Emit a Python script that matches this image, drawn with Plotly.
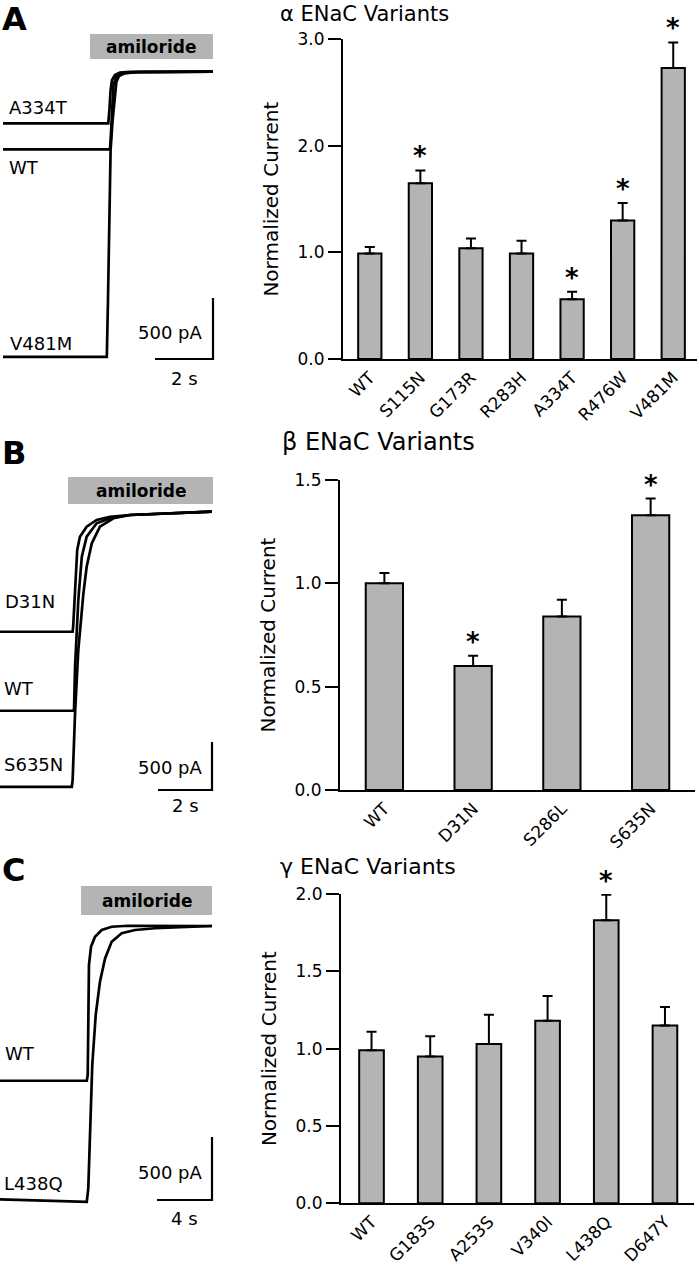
import plotly.graph_objects as go

# ---------------- data ----------------
# amiloride-sensitive current traces (time in s, current in pA, 0 = amiloride plateau)
A_T_A334T = [0, 3.63, 3.67, 3.71, 3.76, 3.86, 4.03, 4.38, 7.24]
A_I_A334T = [-423, -423, -314, -150, -68, -27, -7, -2, 0]
A_T_WT = [0, 3.69, 3.72, 3.77, 3.81, 3.90, 4.10, 4.55, 7.24]
A_I_WT = [-636, -636, -519, -232, -109, -43, -15, -4, 0]
A_T_V481M = [0, 3.58, 3.62, 3.67, 3.71, 3.78, 3.86, 3.91, 4.00, 4.21, 4.66, 7.24]
A_I_V481M = [-2337, -2337, -1872, -1216, -642, -396, -191, -84, -35, -11, -4, 0]

B_T_D31N = [0, 2.69, 2.71, 2.78, 2.86, 2.96, 3.21, 3.58, 4.07, 4.81, 7.85]
B_I_D31N = [-1216, -1216, -1164, -709, -365, -226, -122, -52, -18, 0, 36]
B_T_WT = [0, 2.74, 2.78, 2.90, 3.03, 3.21, 3.58, 4.07, 4.81, 7.85]
B_I_WT = [-2039, -2039, -1581, -886, -435, -226, -86, -34, 0, 36]
B_T_S635N = [0, 2.66, 2.69, 2.78, 2.90, 3.09, 3.21, 3.40, 3.70, 4.20, 4.81, 7.85]
B_I_S635N = [-2831, -2831, -2761, -2063, -1407, -813, -539, -295, -122, -34, 0, 36]

C_T_WT = [0, 6.31, 6.38, 6.42, 6.47, 6.62, 6.91, 7.40, 8.12, 9.33, 15.42]
C_I_WT = [-1228, -1228, -1183, -707, -310, -164, -85, -32, -6, 2, 0]
C_T_L438Q = [0, 6.31, 6.42, 6.55, 6.71, 6.96, 7.27, 7.64, 8.12, 8.85, 9.82, 11.27, 15.42]
C_I_L438Q = [-2170, -2189, -2083, -1633, -1104, -707, -442, -257, -125, -58, -32, -18, 0]

# amiloride application windows (s)
A_AMIL = [3.0, 7.24]
B_AMIL = [2.52, 7.89]
C_AMIL = [5.89, 15.42]

# scale bars
A_SCALE_S, B_SCALE_S, C_SCALE_S = 2, 2, 4
SCALE_PA = 500

# normalized currents (mean, SEM)
alpha_variants = ["WT", "S115N", "G173R", "R283H", "A334T", "R476W", "V481M"]
alpha_mean = [0.99, 1.65, 1.04, 0.99, 0.56, 1.30, 2.73]
alpha_sem = [0.06, 0.12, 0.09, 0.12, 0.07, 0.165, 0.24]
alpha_sig = [False, True, False, False, True, True, True]

beta_variants = ["WT", "D31N", "S286L", "S635N"]
beta_mean = [1.00, 0.60, 0.84, 1.33]
beta_sem = [0.05, 0.05, 0.08, 0.08]
beta_sig = [False, True, False, True]

gamma_variants = ["WT", "G183S", "A253S", "V340I", "L438Q", "D647Y"]
gamma_mean = [0.99, 0.95, 1.03, 1.18, 1.83, 1.15]
gamma_sem = [0.12, 0.13, 0.19, 0.16, 0.165, 0.12]
gamma_sig = [False, False, False, False, True, False]

# ---------------- layout helpers ----------------
W, H = 699, 1265
FONT = "DejaVu Sans"
GREY = "#b4b4b4"


def fx(px):
    return px / W


def fy(py):
    return 1 - py / H


def span(p0, p1, origin, per_unit, down=False):
    """Axis range so that `origin` pixel is value 0 with `per_unit` px per unit."""
    if down:
        return [(origin - p1) / per_unit, (origin - p0) / per_unit]
    return [(p0 - origin) / per_unit, (p1 - origin) / per_unit]


fig = go.Figure()
annotations = []
shapes = []

# ---------- trace panels ----------
trace_panels = [
    dict(ax="", data=[(A_T_A334T, A_I_A334T), (A_T_WT, A_I_WT), (A_T_V481M, A_I_V481M)],
         amil=A_AMIL, amil_y=(34, 59), sec=A_SCALE_S, ppx=29, ppy=61 / 500, ox=3, oy=71.7, ybox=(20, 400),
         corner=(213, 359),
         labels=[("A334T", 7, 108), ("WT", 7, 167), ("V481M", 8, 343)],
         letter=("A", 19), pa_y=332, s_y=378),
    dict(ax="2", data=[(B_T_D31N, B_I_D31N), (B_T_WT, B_I_WT), (B_T_S635N, B_I_S635N)],
         amil=B_AMIL, amil_y=(477, 504), sec=B_SCALE_S, ppx=27, ppy=48 / 500, ox=0, oy=515, ybox=(440, 820),
         corner=(212, 790),
         labels=[("D31N", 3, 602), ("WT", 2, 688), ("S635N", 2, 765)],
         letter=("B", 453), pa_y=767, s_y=805),
    dict(ax="3", data=[(C_T_WT, C_I_WT), (C_T_L438Q, C_I_L438Q)],
         amil=C_AMIL, amil_y=(886, 915), sec=C_SCALE_S, ppx=55 / 4, ppy=63 / 500, ox=0, oy=926, ybox=(860, 1250),
         corner=(212, 1200),
         labels=[("WT", 3, 1053), ("L438Q", 2, 1183)],
         letter=("C", 870), pa_y=1172, s_y=1218),
]

for p in trace_panels:
    xa, ya = "x" + p["ax"], "y" + p["ax"]
    for t, i in p["data"]:
        fig.add_trace(go.Scatter(x=t, y=i, mode="lines", xaxis=xa, yaxis=ya,
                                 line=dict(color="black", width=2.7),
                                 showlegend=False, hoverinfo="skip"))
    # scale bar (corner given in pixels, lengths in data units)
    cx = (p["corner"][0] - p["ox"]) / p["ppx"]
    cy = (p["oy"] - p["corner"][1]) / p["ppy"]
    fig.add_trace(go.Scatter(x=[cx - p["sec"], cx, cx], y=[cy, cy, cy + SCALE_PA], mode="lines",
                             xaxis=xa, yaxis=ya, line=dict(color="black", width=2.2),
                             showlegend=False, hoverinfo="skip"))
    xr = span(0, 230, p["ox"], p["ppx"])
    yr = span(p["ybox"][0], p["ybox"][1], p["oy"], p["ppy"], down=True)
    key = p["ax"]
    fig.update_layout(**{
        "xaxis" + key: dict(domain=[0, fx(230)], range=xr, visible=False, anchor=ya, automargin=False),
        "yaxis" + key: dict(domain=[fy(p["ybox"][1]), fy(p["ybox"][0])], range=yr, visible=False,
                            anchor=xa, automargin=False),
    })
    # amiloride bar
    shapes.append(dict(type="rect", xref=xa, yref="paper", x0=p["amil"][0], x1=p["amil"][1],
                       y0=fy(p["amil_y"][1]), y1=fy(p["amil_y"][0]), fillcolor=GREY, line=dict(width=0),
                       layer="below"))
    annotations.append(dict(x=sum(p["amil"]) / 2, xref=xa, y=fy(sum(p["amil_y"]) / 2), yref="paper",
                            text="<b>amiloride</b>", showarrow=False, font=dict(size=17, color="black"),
                            xanchor="center", yanchor="middle"))
    for txt, lx, ly in p["labels"]:
        annotations.append(dict(x=fx(lx), y=fy(ly), xref="paper", yref="paper", text=txt, showarrow=False,
                                xanchor="left", yanchor="middle", font=dict(size=18, color="black")))
    annotations.append(dict(x=fx(205), y=fy(p["pa_y"]), xref="paper", yref="paper", text=f"{SCALE_PA} pA",
                            showarrow=False, xanchor="right", yanchor="middle",
                            font=dict(size=18, color="black")))
    annotations.append(dict(x=cx - p["sec"] / 2, xref=xa, y=fy(p["s_y"]), yref="paper",
                            text=f"{p['sec']} s", showarrow=False, xanchor="center", yanchor="middle",
                            font=dict(size=18, color="black")))
    annotations.append(dict(x=0, y=fy(p["letter"][1]), xref="paper", yref="paper",
                            text=f"<b>{p['letter'][0]}</b>", showarrow=False, xanchor="left",
                            yanchor="middle", font=dict(size=32, color="black")))

# ---------- bar panels ----------
bar_panels = [
    dict(ax="4", cats=alpha_variants, mean=alpha_mean, sem=alpha_sem, sig=alpha_sig, width=0.46,
         xbox=(343, 697), ybox=(39.3, 359), yrange=[0, 3], dtick=1, xr=[-0.53, 6.47],
         title="α ENaC Variants", title_xy=(278, 14), title_size=21),
    dict(ax="5", cats=beta_variants, mean=beta_mean, sem=beta_sem, sig=beta_sig, width=0.42,
         xbox=(340, 695), ybox=(480, 790), yrange=[0, 1.5], dtick=0.5, xr=[-0.5, 3.5],
         title="β ENaC Variants", title_xy=(280, 442), title_size=24),
    dict(ax="6", cats=gamma_variants, mean=gamma_mean, sem=gamma_sem, sig=gamma_sig, width=0.42,
         xbox=(341, 694.3), ybox=(894, 1203.3), yrange=[0, 2], dtick=0.5, xr=[-0.52, 5.5],
         title="γ ENaC Variants", title_xy=(278, 866), title_size=22),
]

for p in bar_panels:
    xa, ya = "x" + p["ax"], "y" + p["ax"]
    fig.add_trace(go.Bar(x=p["cats"], y=p["mean"], xaxis=xa, yaxis=ya, width=p["width"],
                         marker=dict(color=GREY, line=dict(color="black", width=2)),
                         error_y=dict(type="data", array=p["sem"], arrayminus=[0] * len(p["sem"]),
                                      symmetric=False, color="black", thickness=2, width=5),
                         showlegend=False, hoverinfo="skip"))
    fig.update_layout(**{
        "xaxis" + p["ax"]: dict(domain=[fx(p["xbox"][0]), fx(p["xbox"][1])], anchor=ya, type="category",
                                range=p["xr"], showline=True, linewidth=2, linecolor="black", ticks="",
                                tickangle=-45, tickfont=dict(size=17, color="black"), showgrid=False,
                                automargin=False),
        "yaxis" + p["ax"]: dict(domain=[fy(p["ybox"][1]), fy(p["ybox"][0])], anchor=xa, range=p["yrange"],
                                dtick=p["dtick"], tick0=0, tickformat=".1f", showline=True, linewidth=2,
                                linecolor="black", ticks="outside", ticklen=13, tickwidth=2,
                                tickcolor="black", tickfont=dict(size=17, color="black"),
                                showgrid=False, zeroline=False, automargin=False,
                                title=dict(text="Normalized Current", font=dict(size=20, color="black"),
                                           standoff=14)),
    })
    for c, m, s, g in zip(p["cats"], p["mean"], p["sem"], p["sig"]):
        if g:
            annotations.append(dict(x=c, y=m + s, xref=xa, yref=ya, text="<b>*</b>", showarrow=False,
                                    xanchor="center", yanchor="middle", yshift=14,
                                    font=dict(size=26, color="black")))
    annotations.append(dict(x=fx(p["title_xy"][0]), y=fy(p["title_xy"][1]), xref="paper", yref="paper",
                            text=p["title"], showarrow=False, xanchor="left", yanchor="middle",
                            font=dict(size=p["title_size"], color="black")))

fig.update_layout(width=W, height=H, margin=dict(l=0, r=0, t=0, b=0, autoexpand=False),
                  paper_bgcolor="white", plot_bgcolor="rgba(0,0,0,0)",
                  font=dict(family=FONT, color="black"),
                  annotations=annotations, shapes=shapes, showlegend=False)

# the page body has an 8px default margin; drop it so the figure fills the window
fig.write_html("out.html", config={"displayModeBar": False},
               post_script="document.body.style.margin='0';")
